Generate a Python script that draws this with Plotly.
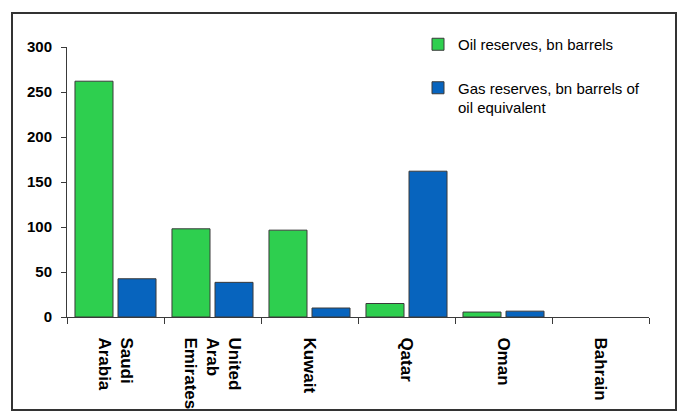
import plotly.graph_objects as go

countries = ["Saudi<br>Arabia", "United<br>Arab<br>Emirates", "Kuwait", "Qatar", "Oman", "Bahrain"]
oil_reserves = [262, 98, 96.5, 15, 5.5, 0]
gas_reserves = [42.5, 38.5, 10, 162, 6.5, 0]
y_ticks = [0, 50, 100, 150, 200, 250, 300]

FONT = "Liberation Sans, Arial, sans-serif"
GREEN = "#2ECF4F"
BLUE = "#0764BE"
LINE = "#3a3a3a"

def outline(vals):
    return [1 if v > 0 else 0 for v in vals]

fig = go.Figure()
fig.add_trace(go.Bar(
    x=countries, y=oil_reserves, name="Oil reserves, bn barrels",
    marker=dict(color=GREEN, line=dict(color=LINE, width=outline(oil_reserves))),
    legendgroup="oil",
))
fig.add_trace(go.Bar(
    x=countries, y=gas_reserves, name="Gas reserves, bn barrels of<br>oil equivalent",
    marker=dict(color=BLUE, line=dict(color=LINE, width=outline(gas_reserves))),
    legendgroup="gas",
))

# plot area: x 67..649, y 47..317 (px)
L, R, T, B = 67, 649, 47, 317
W, H = R - L, B - T
def px_x(p): return (p - L) / W
def px_y(p): return (B - p) / H

fig.update_layout(
    width=677, height=414,
    margin=dict(l=L, r=677 - R, t=T, b=414 - B, pad=0, autoexpand=False),
    paper_bgcolor="white", plot_bgcolor="white",
    barmode="group", bargap=0.113, bargroupgap=0.116,
    font=dict(family=FONT, color="black"),
    showlegend=True,
    legend=dict(
        x=px_x(418), y=px_y(28), xanchor="left", yanchor="top",
        font=dict(size=15, family=FONT, color="black"),
        tracegroupgap=21, valign="top", bgcolor="rgba(0,0,0,0)",
        traceorder="grouped",
    ),
    xaxis=dict(
        type="category", tickangle=90, tickson="boundaries",
        ticks="outside", ticklen=6, tickcolor=LINE, tickwidth=1,
        showline=True, linecolor=LINE, linewidth=1,
        showgrid=False, zeroline=False, automargin=False,
        tickfont=dict(size=17, family=FONT, color="black", weight="bold"),
        ticklabelstandoff=16,
    ),
    yaxis=dict(
        range=[0, 300], tickvals=y_ticks, ticktext=[str(v) for v in y_ticks],
        ticks="outside", ticklen=5, tickcolor=LINE, tickwidth=1,
        showline=True, linecolor=LINE, linewidth=1,
        showgrid=False, zeroline=False, automargin=False,
        tickfont=dict(size=15, family=FONT, color="black", weight="bold"),
        ticklabelstandoff=6,
    ),
    shapes=[dict(
        type="rect", xref="paper", yref="paper",
        x0=px_x(12), x1=px_x(676), y0=px_y(410), y1=px_y(13),
        line=dict(color="#333333", width=2), fillcolor="rgba(0,0,0,0)",
        layer="below",
    )],
)

fig.write_html("out.html")
